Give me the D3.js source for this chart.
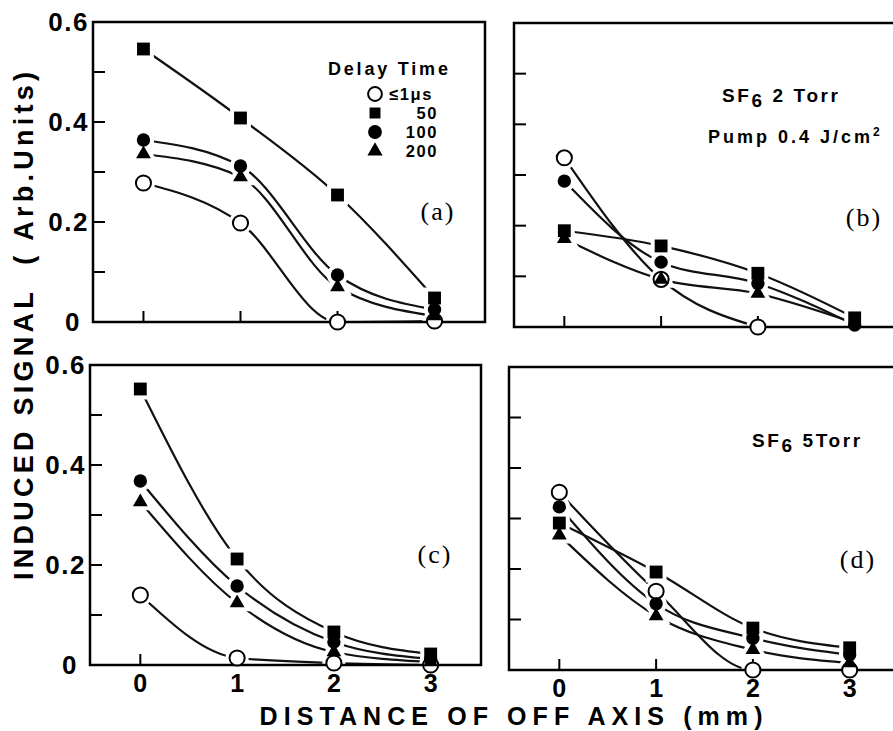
<!DOCTYPE html>
<html>
<head>
<meta charset="utf-8">
<script src="https://cdn.jsdelivr.net/npm/d3@7"></script>
<style>
  html, body { margin: 0; padding: 0; background: #fff; }
  svg { display: block; }
</style>
</head>
<body>
<svg id="fig" width="893" height="731"></svg>
<script>
// Distance of off axis (mm) and delay-time series
const distances = [0, 1, 2, 3];
const delayLabels = ["\u22641\u03bcs", "50", "100", "200"];
const yTickValues = [0.1, 0.2, 0.3, 0.4, 0.5];
const yLabelValues = [0, 0.2, 0.4, 0.6];
const yLabelText = ["0", "0.2", "0.4", "0.6"];
const xLabelText = ["0", "1", "2", "3"];

// (a) induced signal, arb. units
const a_le1 = [0.278, 0.198, 0.000, 0.002];
const a_50  = [0.546, 0.408, 0.254, 0.048];
const a_100 = [0.364, 0.312, 0.094, 0.025];
const a_200 = [0.336, 0.290, 0.070, 0.012];

// (b) SF6 2 Torr, pump 0.4 J/cm2
const b_le1 = [0.334, 0.094, 0.000, null];
const b_50  = [0.190, 0.160, 0.106, 0.018];
const b_100 = [0.288, 0.128, 0.086, 0.004];
const b_200 = [0.174, 0.094, 0.066, 0.008];

// (c)
const c_le1 = [0.140, 0.014, 0.004, 0.000];
const c_50  = [0.552, 0.212, 0.066, 0.022];
const c_100 = [0.368, 0.158, 0.046, 0.012];
const c_200 = [0.326, 0.124, 0.026, 0.006];

// (d) SF6 5 Torr
const d_le1 = [0.352, 0.156, 0.000, 0.000];
const d_50  = [0.291, 0.194, 0.083, 0.044];
const d_100 = [0.323, 0.131, 0.063, 0.030];
const d_200 = [0.267, 0.107, 0.040, 0.014];

const SANS = "'Liberation Sans', Arial, Helvetica, sans-serif";
const SERIF = "'Liberation Serif', 'Times New Roman', serif";
const xDomain = [-0.52, 3.52];
const yDomain = [0, 0.6];

const svg = d3.select("#fig");

// marker glyphs: open circle, filled square, filled circle, filled triangle
const markerDefs = [
  { type: d3.symbolCircle,   size: 180, fill: "#fff", stroke: "#000", sw: 2 },
  { type: d3.symbolSquare,   size: 165, fill: "#000", stroke: "none", sw: 0 },
  { type: d3.symbolCircle,   size: 140, fill: "#000", stroke: "none", sw: 0 },
  { type: d3.symbolTriangle, size: 95,  fill: "#000", stroke: "none", sw: 0 }
];

const panels = [
  { series: [a_le1, a_50, a_100, a_200], xr: [93, 485], yr: [322, 22],  yLabels: true,  xLabels: false, tag: "(a)", tagX: 438, tagY: 220 },
  { series: [b_le1, b_50, b_100, b_200], xr: [514, 905], yr: [327, 23], yLabels: false, xLabels: false, tag: "(b)", tagX: 864, tagY: 226 },
  { series: [c_le1, c_50, c_100, c_200], xr: [90, 481], yr: [665, 365], yLabels: true,  xLabels: true,  tag: "(c)", tagX: 435, tagY: 563 },
  { series: [d_le1, d_50, d_100, d_200], xr: [509, 900], yr: [670, 367], yLabels: false, xLabels: true,  tag: "(d)", tagX: 858, tagY: 568 }
];

panels.forEach(p => {
  const x = d3.scaleLinear().domain(xDomain).range(p.xr);
  const y = d3.scaleLinear().domain(yDomain).range(p.yr);
  const g = svg.append("g");

  const rows = p.series.map((vals, si) =>
    distances.map((d, i) => ({ d, v: vals[i], si })).filter(r => r.v != null));

  // smooth connecting curves
  const line = d3.line()
    .x(r => x(r.d))
    .y(r => y(r.v))
    .curve(d3.curveMonotoneX);
  g.append("g").selectAll("path").data(rows).join("path")
    .attr("d", line)
    .attr("fill", "none")
    .attr("stroke", "#111")
    .attr("stroke-width", 2.2);

  const pts = rows.flat();
  const sym = r => d3.symbol().type(markerDefs[r.si].type).size(markerDefs[r.si].size)();

  // white halos keep the curves clear of the markers
  g.append("g").selectAll("path").data(pts).join("path")
    .attr("transform", r => `translate(${x(r.d)},${y(r.v)})`)
    .attr("d", sym)
    .attr("fill", "#fff")
    .attr("stroke", "#fff")
    .attr("stroke-width", 8);

  // frame
  g.append("rect")
    .attr("x", p.xr[0]).attr("y", p.yr[1])
    .attr("width", p.xr[1] - p.xr[0]).attr("height", p.yr[0] - p.yr[1])
    .attr("fill", "none").attr("stroke", "#000").attr("stroke-width", 2.5);

  // inward ticks
  g.append("g").selectAll("line").data(yTickValues).join("line")
    .attr("x1", p.xr[0]).attr("x2", p.xr[0] + 12)
    .attr("y1", d => y(d)).attr("y2", d => y(d))
    .attr("stroke", "#000").attr("stroke-width", 2);
  g.append("g").selectAll("line").data(distances).join("line")
    .attr("x1", d => x(d)).attr("x2", d => x(d))
    .attr("y1", p.yr[0]).attr("y2", p.yr[0] - 11)
    .attr("stroke", "#000").attr("stroke-width", 2);

  if (p.yLabels) {
    g.append("g").selectAll("text").data(yLabelValues).join("text")
      .attr("x", (d, i) => yLabelText[i] === "0" ? p.xr[0] - 12 : p.xr[0] - 4)
      .attr("y", d => y(d))
      .attr("dy", "0.36em")
      .attr("text-anchor", "end")
      .attr("font-family", SANS).attr("font-weight", "bold")
      .attr("font-size", 26).attr("letter-spacing", 1.5)
      .text((d, i) => yLabelText[i]);
  }
  if (p.xLabels) {
    g.append("g").selectAll("text").data(distances).join("text")
      .attr("x", d => x(d)).attr("y", p.yr[0] + 27)
      .attr("text-anchor", "middle")
      .attr("font-family", SANS).attr("font-weight", "bold")
      .attr("font-size", 25)
      .text((d, i) => xLabelText[i]);
  }

  // markers: open circles first so filled ones stay visible on top
  g.append("g").selectAll("path").data(pts).join("path")
    .attr("transform", r => `translate(${x(r.d)},${y(r.v)})`)
    .attr("d", sym)
    .attr("fill", r => markerDefs[r.si].fill)
    .attr("stroke", r => markerDefs[r.si].stroke)
    .attr("stroke-width", r => markerDefs[r.si].sw);

  g.append("text")
    .attr("x", p.tagX).attr("y", p.tagY)
    .attr("text-anchor", "middle")
    .attr("font-family", SERIF).attr("font-size", 26)
    .attr("letter-spacing", 2)
    .text(p.tag);
});

// legend in panel (a)
const legend = svg.append("g");
legend.append("text")
  .attr("x", 328).attr("y", 75)
  .attr("font-family", SANS).attr("font-weight", "bold")
  .attr("font-size", 18).attr("letter-spacing", 2.8)
  .text("Delay Time");
const legendRows = [94, 113, 132, 151];
const legendSizes = [150, 120, 150, 100];
delayLabels.forEach((lab, i) => {
  const m = markerDefs[i];
  legend.append("path")
    .attr("transform", `translate(375,${legendRows[i]})`)
    .attr("d", d3.symbol().type(m.type).size(legendSizes[i])())
    .attr("fill", m.fill).attr("stroke", m.stroke).attr("stroke-width", m.sw);
  legend.append("text")
    .attr("x", i === 0 ? 389 : 438)
    .attr("y", legendRows[i] + 6)
    .attr("text-anchor", i === 0 ? "start" : "end")
    .attr("font-family", SANS).attr("font-weight", "bold")
    .attr("font-size", 16.5).attr("letter-spacing", 1.6)
    .text(lab);
});

// panel annotations
function sf6(xp, yp, rest) {
  const t = svg.append("text")
    .attr("x", xp).attr("y", yp)
    .attr("font-family", SANS).attr("font-weight", "bold")
    .attr("font-size", 19).attr("letter-spacing", 2.6);
  t.append("tspan").text("SF");
  t.append("tspan").attr("dy", 5).text("6");
  t.append("tspan").attr("dy", -5).text(rest);
}
sf6(722, 102, " 2 Torr");
sf6(752, 447, " 5Torr");

const pump = svg.append("text")
  .attr("x", 708).attr("y", 143)
  .attr("font-family", SANS).attr("font-weight", "bold")
  .attr("font-size", 18).attr("letter-spacing", 3);
pump.append("tspan").text("Pump 0.4 J/cm");
pump.append("tspan").attr("dy", -7).attr("font-size", 12).text("2");

// axis titles
svg.append("text")
  .attr("transform", "translate(33,326) rotate(-90)")
  .attr("text-anchor", "middle")
  .attr("font-family", SANS).attr("font-weight", "bold")
  .attr("font-size", 27)
  .attr("textLength", 508).attr("lengthAdjust", "spacing")
  .style("white-space", "pre")
  .text("INDUCED SIGNAL  ( Arb.Units)");

svg.append("text")
  .attr("x", 511).attr("y", 725)
  .attr("text-anchor", "middle")
  .attr("font-family", SANS).attr("font-weight", "bold")
  .attr("font-size", 25)
  .attr("textLength", 503).attr("lengthAdjust", "spacing")
  .text("DISTANCE OF OFF AXIS (mm)");
</script>
</body>
</html>
